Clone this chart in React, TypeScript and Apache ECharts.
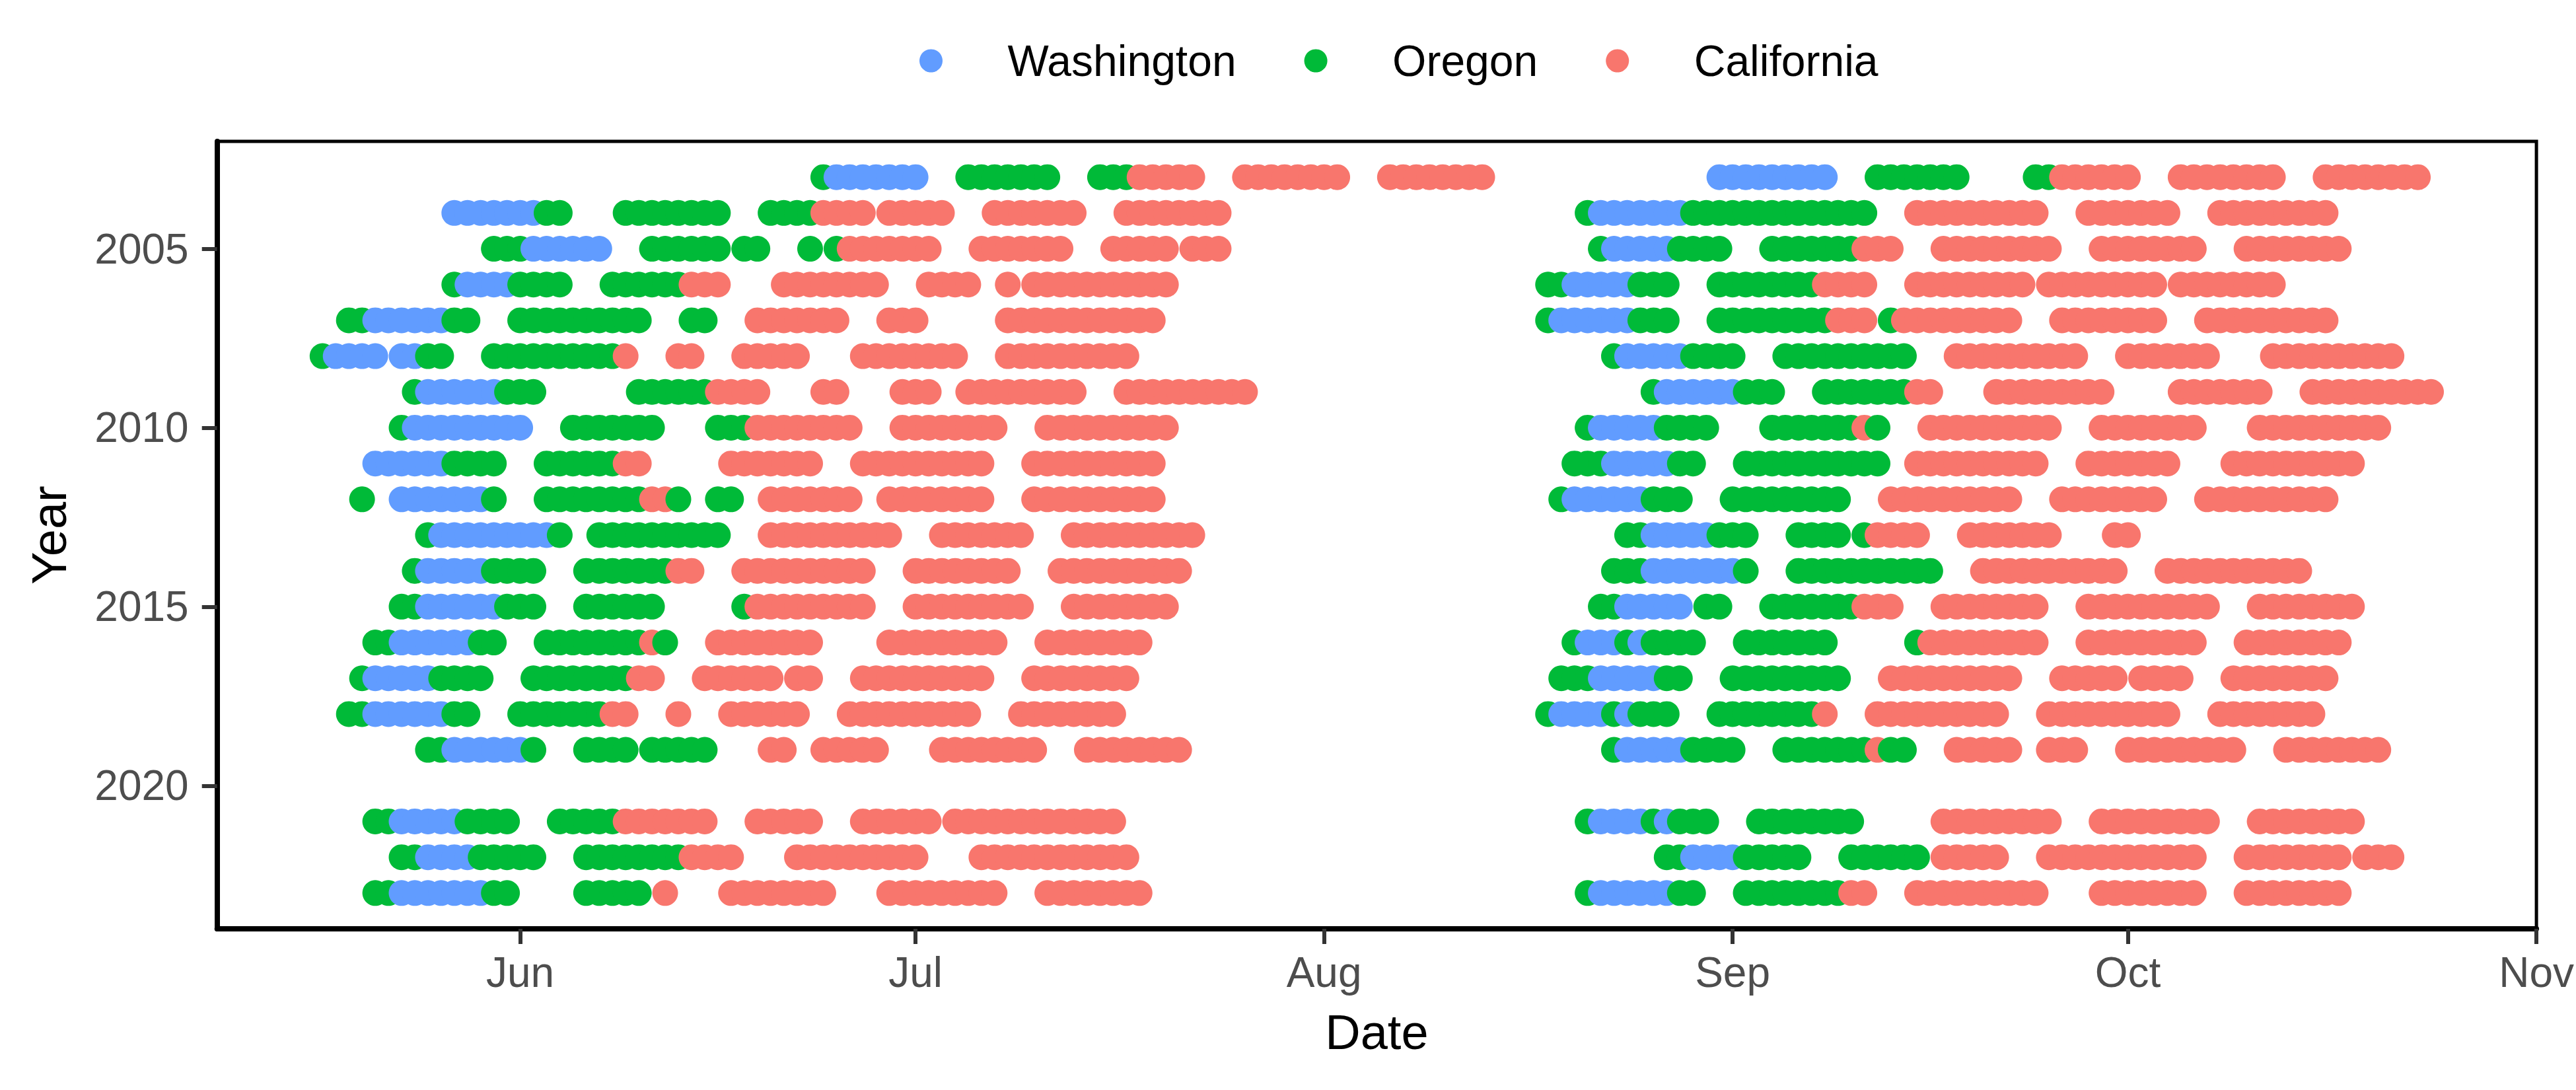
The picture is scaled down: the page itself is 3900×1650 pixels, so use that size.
import React, { useEffect, useRef } from "react";
import * as echarts from "echarts";

const stateNames = ["Washington", "Oregon", "California"];
const stateColors = ["#619CFF", "#00BA38", "#F8766D"];
const monthTicks = [152, 182, 213, 244, 274, 305];
const monthLabels = ["Jun", "Jul", "Aug", "Sep", "Oct", "Nov"];
const yearTicks = [2005, 2010, 2015, 2020];

// runs of consecutive days: [year, firstDayOfYear, lastDayOfYear]
const washingtonRuns = [
  [2003, 176, 182], [2003, 243, 251],
  [2004, 147, 153], [2004, 234, 240],
  [2005, 153, 158], [2005, 235, 239],
  [2006, 148, 151], [2006, 232, 236],
  [2007, 141, 146], [2007, 231, 236],
  [2008, 138, 141], [2008, 143, 144], [2008, 236, 240],
  [2009, 145, 150], [2009, 239, 244],
  [2010, 144, 152], [2010, 234, 238],
  [2011, 141, 146], [2011, 235, 239],
  [2012, 143, 149], [2012, 232, 237],
  [2013, 146, 154], [2013, 238, 242],
  [2014, 145, 149], [2014, 238, 244],
  [2015, 145, 150], [2015, 236, 240],
  [2016, 143, 148], [2016, 233, 235], [2016, 237, 237],
  [2017, 141, 145], [2017, 234, 238],
  [2018, 141, 146], [2018, 231, 234], [2018, 236, 236],
  [2019, 147, 152], [2019, 236, 240],
  [2021, 143, 147], [2021, 234, 237], [2021, 239, 239],
  [2022, 145, 148], [2022, 241, 244],
  [2023, 143, 149], [2023, 234, 239],
];

const oregonRuns = [
  [2003, 175, 175], [2003, 186, 192], [2003, 196, 198], [2003, 255, 261], [2003, 267, 268],
  [2004, 154, 155], [2004, 160, 167], [2004, 171, 174], [2004, 233, 233], [2004, 241, 254],
  [2005, 150, 152], [2005, 162, 167], [2005, 169, 170], [2005, 174, 174], [2005, 176, 176], [2005, 234, 234], [2005, 240, 243], [2005, 247, 253],
  [2006, 147, 147], [2006, 152, 155], [2006, 159, 164], [2006, 230, 231], [2006, 237, 239], [2006, 243, 250],
  [2007, 139, 140], [2007, 147, 148], [2007, 152, 161], [2007, 165, 166], [2007, 230, 230], [2007, 237, 239], [2007, 243, 251], [2007, 256, 256],
  [2008, 137, 137], [2008, 145, 146], [2008, 150, 159], [2008, 235, 235], [2008, 241, 244], [2008, 248, 257],
  [2009, 144, 144], [2009, 151, 153], [2009, 161, 166], [2009, 238, 238], [2009, 245, 247], [2009, 251, 257],
  [2010, 143, 143], [2010, 156, 162], [2010, 167, 169], [2010, 233, 233], [2010, 239, 242], [2010, 247, 253], [2010, 255, 255],
  [2011, 147, 150], [2011, 154, 159], [2011, 232, 234], [2011, 240, 241], [2011, 245, 255],
  [2012, 140, 140], [2012, 150, 150], [2012, 154, 161], [2012, 164, 164], [2012, 167, 168], [2012, 231, 231], [2012, 238, 240], [2012, 244, 252],
  [2013, 145, 145], [2013, 155, 155], [2013, 158, 167], [2013, 236, 237], [2013, 243, 245], [2013, 249, 252], [2013, 254, 254],
  [2014, 144, 144], [2014, 150, 153], [2014, 157, 163], [2014, 235, 237], [2014, 245, 245], [2014, 249, 259],
  [2015, 143, 144], [2015, 151, 153], [2015, 157, 162], [2015, 169, 169], [2015, 234, 235], [2015, 242, 243], [2015, 247, 253],
  [2016, 141, 142], [2016, 149, 150], [2016, 154, 161], [2016, 163, 163], [2016, 232, 232], [2016, 236, 236], [2016, 238, 241], [2016, 245, 251], [2016, 258, 258],
  [2017, 140, 140], [2017, 146, 149], [2017, 153, 160], [2017, 231, 233], [2017, 239, 240], [2017, 244, 252],
  [2018, 139, 140], [2018, 147, 148], [2018, 152, 158], [2018, 230, 230], [2018, 235, 235], [2018, 237, 239], [2018, 243, 250],
  [2019, 145, 146], [2019, 153, 153], [2019, 157, 160], [2019, 162, 166], [2019, 235, 235], [2019, 241, 244], [2019, 248, 254], [2019, 256, 257],
  [2021, 141, 142], [2021, 148, 151], [2021, 155, 159], [2021, 233, 233], [2021, 238, 238], [2021, 240, 242], [2021, 246, 253],
  [2022, 143, 144], [2022, 149, 153], [2022, 157, 164], [2022, 239, 240], [2022, 245, 249], [2022, 253, 258],
  [2023, 141, 142], [2023, 150, 151], [2023, 157, 161], [2023, 233, 233], [2023, 240, 241], [2023, 245, 252],
];

const californiaRuns = [
  [2003, 199, 203], [2003, 207, 214], [2003, 218, 225], [2003, 269, 274], [2003, 278, 285], [2003, 289, 296],
  [2004, 175, 178], [2004, 180, 184], [2004, 188, 194], [2004, 198, 205], [2004, 258, 267], [2004, 271, 277], [2004, 281, 289],
  [2005, 177, 183], [2005, 187, 193], [2005, 197, 201], [2005, 203, 205], [2005, 254, 256], [2005, 260, 268], [2005, 272, 279], [2005, 283, 290],
  [2006, 165, 167], [2006, 172, 179], [2006, 183, 186], [2006, 189, 189], [2006, 191, 201], [2006, 251, 254], [2006, 258, 266], [2006, 268, 276], [2006, 278, 285],
  [2007, 170, 176], [2007, 180, 182], [2007, 189, 200], [2007, 252, 254], [2007, 257, 265], [2007, 269, 276], [2007, 280, 289],
  [2008, 160, 160], [2008, 164, 165], [2008, 169, 173], [2008, 178, 185], [2008, 189, 198], [2008, 261, 270], [2008, 274, 280], [2008, 285, 294],
  [2009, 167, 170], [2009, 175, 176], [2009, 181, 183], [2009, 186, 194], [2009, 198, 207], [2009, 258, 259], [2009, 264, 272], [2009, 278, 284], [2009, 288, 297],
  [2010, 170, 177], [2010, 181, 188], [2010, 192, 201], [2010, 254, 254], [2010, 259, 268], [2010, 272, 279], [2010, 284, 293],
  [2011, 160, 161], [2011, 168, 174], [2011, 178, 187], [2011, 191, 200], [2011, 258, 267], [2011, 271, 277], [2011, 282, 291],
  [2012, 162, 163], [2012, 171, 177], [2012, 180, 187], [2012, 191, 200], [2012, 256, 265], [2012, 269, 276], [2012, 280, 289],
  [2013, 171, 180], [2013, 184, 190], [2013, 194, 203], [2013, 255, 258], [2013, 262, 268], [2013, 273, 274],
  [2014, 164, 165], [2014, 169, 178], [2014, 182, 189], [2014, 193, 202], [2014, 263, 273], [2014, 277, 287],
  [2015, 170, 178], [2015, 182, 190], [2015, 194, 201], [2015, 254, 256], [2015, 260, 267], [2015, 271, 280], [2015, 284, 291],
  [2016, 162, 162], [2016, 167, 174], [2016, 180, 188], [2016, 192, 199], [2016, 259, 267], [2016, 271, 279], [2016, 283, 290],
  [2017, 161, 162], [2017, 166, 171], [2017, 173, 174], [2017, 178, 187], [2017, 191, 198], [2017, 256, 265], [2017, 269, 273], [2017, 275, 278], [2017, 282, 289],
  [2018, 159, 160], [2018, 164, 164], [2018, 168, 173], [2018, 177, 186], [2018, 190, 197], [2018, 251, 251], [2018, 255, 264], [2018, 268, 277], [2018, 281, 288],
  [2019, 171, 172], [2019, 175, 179], [2019, 184, 191], [2019, 195, 202], [2019, 255, 255], [2019, 261, 265], [2019, 268, 270], [2019, 274, 282], [2019, 286, 293],
  [2021, 160, 166], [2021, 170, 174], [2021, 178, 183], [2021, 185, 197], [2021, 260, 268], [2021, 272, 280], [2021, 284, 291],
  [2022, 165, 168], [2022, 173, 182], [2022, 187, 198], [2022, 260, 264], [2022, 268, 279], [2022, 283, 290], [2022, 292, 294],
  [2023, 163, 163], [2023, 168, 175], [2023, 180, 188], [2023, 192, 199], [2023, 253, 254], [2023, 258, 267], [2023, 272, 279], [2023, 283, 290],
];

const FONT = "'Liberation Sans', Arial, Helvetica, sans-serif";

function buildPoints() {
  const all: { day: number; year: number; s: number }[] = [];
  [washingtonRuns, oregonRuns, californiaRuns].forEach((runs, s) => {
    runs.forEach(([year, a, b]) => {
      for (let d = a; d <= b; d++) all.push({ day: d, year, s });
    });
  });
  all.sort((p, q) => p.year - q.year || p.day - q.day);
  return all.map((p) => ({
    value: [p.day, p.year],
    itemStyle: { color: stateColors[p.s], opacity: 1 },
  }));
}

export default function App() {
  const ref = useRef<HTMLDivElement>(null);
  useEffect(() => {
    if (!ref.current) return;
    const chart = echarts.init(ref.current, undefined, { renderer: "svg" });
    const points = buildPoints();
    const option: any = {
      animation: false,
      backgroundColor: "#ffffff",
      textStyle: { fontFamily: FONT },
      legend: {
        data: stateNames,
        icon: "circle",
        orient: "horizontal",
        left: 1392,
        top: 59,
        padding: 0,
        itemWidth: 222,
        itemHeight: 35,
        itemGap: 103,
        selectedMode: false,
        textStyle: { fontFamily: FONT, fontSize: 66, color: "#000000", lineHeight: 66 },
      },
      grid: {
        left: 328.7,
        right: 46,
        top: 214,
        bottom: 244,
        show: true,
        borderColor: "#000000",
        borderWidth: 5,
        backgroundColor: "transparent",
      },
      xAxis: {
        type: "value",
        min: 129,
        max: 305,
        name: "Date",
        nameLocation: "middle",
        nameGap: 119,
        nameTextStyle: { fontFamily: FONT, fontSize: 74, color: "#000000" },
        splitLine: { show: false },
        axisLine: { show: true, onZero: false, lineStyle: { color: "#000000", width: 8 } },
        axisTick: {
          show: true,
          customValues: monthTicks,
          length: 23,
          lineStyle: { color: "#333333", width: 6 },
        },
        axisLabel: {
          customValues: monthTicks,
          formatter: (v: number) => {
            const i = monthTicks.indexOf(Math.round(v));
            return i >= 0 ? monthLabels[i] : "";
          },
          fontFamily: FONT,
          fontSize: 64,
          color: "#4D4D4D",
          margin: 34,
          showMinLabel: true,
          showMaxLabel: true,
        },
      },
      yAxis: {
        type: "value",
        inverse: true,
        min: 2002,
        max: 2024,
        name: "Year",
        nameLocation: "middle",
        nameGap: 217,
        nameRotate: 90,
        nameTextStyle: { fontFamily: FONT, fontSize: 74, color: "#000000" },
        splitLine: { show: false },
        axisLine: { show: true, onZero: false, lineStyle: { color: "#000000", width: 8 } },
        axisTick: {
          show: true,
          customValues: yearTicks,
          length: 23,
          lineStyle: { color: "#333333", width: 6 },
        },
        axisLabel: {
          customValues: yearTicks,
          formatter: (v: number) => String(Math.round(v)),
          fontFamily: FONT,
          fontSize: 64,
          color: "#4D4D4D",
          margin: 43,
        },
      },
      series: [
        ...stateNames.map((n, i) => ({
          type: "scatter",
          name: n,
          data: [],
          symbolSize: 35,
          itemStyle: { color: stateColors[i], opacity: 1 },
        })),
        {
          type: "scatter",
          name: "days",
          data: points,
          symbol: "circle",
          symbolSize: 39,
          large: false,
          progressive: 0,
          silent: true,
          itemStyle: { opacity: 1 },
        },
      ],
    };
    chart.setOption(option);
    return () => chart.dispose();
  }, []);
  return (
    <div
      ref={ref}
      style={{ position: "fixed", left: 0, top: 0, width: "3900px", height: "1650px", background: "#fff" }}
    />
  );
}
